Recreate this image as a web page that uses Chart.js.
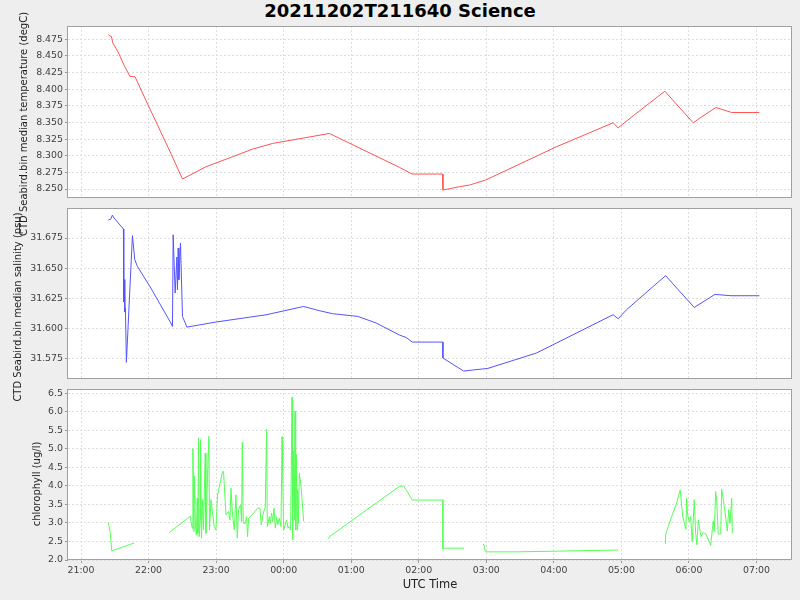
<!DOCTYPE html>
<html>
<head>
<meta charset="utf-8">
<script src="https://cdn.jsdelivr.net/npm/chart.js@4.4.0/dist/chart.umd.min.js"></script>
<style>
  html, body { margin: 0; padding: 0; background: #eeeeee; }
  body { width: 800px; height: 600px; position: relative; overflow: hidden; font-family: "DejaVu Sans", sans-serif; }
  canvas { position: absolute; left: 0; }
  .title { position: absolute; left: 0; top: 0; width: 800px; height: 24px; line-height: 24px; text-align: center; font: bold 18px "DejaVu Sans"; color: #000; }
  .ylab { position: absolute; white-space: nowrap; font: 10px "DejaVu Sans"; color: #222; transform: translate(-50%, -50%) rotate(-90deg); line-height: 12px; }
</style>
</head>
<body>
<div class="title">20211202T211640 Science</div>
<canvas id="c1" width="800" height="188" style="top:18px"></canvas>
<canvas id="c2" width="800" height="187" style="top:200px"></canvas>
<canvas id="c3" width="800" height="219" style="top:381px"></canvas>
<div class="ylab" style="left:24px; top:124px">CTD Seabird.bin median temperature (degC)</div>
<div class="ylab" style="left:18px; top:307px">CTD Seabird.bin median salinity (psu)</div>
<div class="ylab" style="left:37px; top:484px">chlorophyll (ug/l)</div>
<script>
// ---------- DATA ----------
const xTickHours = [21, 22, 23, 24, 25, 26, 27, 28, 29, 30, 31];

const tempTimes = ["21:24:17","21:25:32","21:26:57","21:28:12","21:32:55","21:38:15","21:43:19","21:48:02","21:57:33","22:19:48","22:30:07","22:50:56","23:14:36","23:32:24","23:50:11","00:02:06","00:40:37","01:42:54","01:54:11","02:21:25","02:21:26","02:36:17","02:45:10","02:59:24","04:02:18","04:52:40","04:57:08","05:10:26","05:38:36","06:03:48","06:11:17","06:24:00","06:38:00","07:02:32"];
const tempValues = [8.4825,8.480,8.4795,8.4695,8.456,8.436,8.4195,8.4185,8.3835,8.3035,8.265,8.2835,8.2985,8.310,8.3185,8.322,8.3335,8.2825,8.2725,8.2725,8.2485,8.2535,8.256,8.2635,8.3135,8.3495,8.342,8.360,8.397,8.3495,8.3585,8.3725,8.365,8.365];

const salTimes = ["21:24:17","21:26:25","21:27:51","21:29:21","21:37:38","21:37:59","21:38:31","21:38:53","21:39:25","21:40:18","21:45:38","21:47:46","21:50:05","22:02:00","22:19:48","22:21:13","22:21:50","22:23:37","22:25:08","22:25:40","22:26:17","22:26:55","22:28:20","22:30:07","22:34:02","22:59:50","23:44:18","00:17:46","00:31:43","00:43:34","01:05:48","01:22:10","01:42:54","01:48:52","01:54:11","02:21:25","02:21:26","02:39:50","03:01:26","03:44:30","04:02:18","04:52:40","04:57:08","05:04:35","05:28:14","05:39:16","06:04:43","06:23:07","06:37:22","07:02:32"];
const salValues = [31.690,31.6907,31.694,31.6916,31.6825,31.622,31.6405,31.6137,31.617,31.572,31.677,31.657,31.6515,31.6336,31.6046,31.6017,31.6777,31.6294,31.6593,31.6322,31.6667,31.6405,31.6709,31.6101,31.6012,31.6054,31.6114,31.6183,31.6148,31.6123,31.6101,31.6046,31.5946,31.5926,31.5888,31.5888,31.5756,31.5648,31.5670,31.5797,31.5880,31.6115,31.6081,31.6156,31.6349,31.6438,31.6175,31.6283,31.6272,31.6272];

// null values mark gaps in the chlorophyll record
const chlTimes = ["21:24:17","21:25:48","21:27:19","21:29:21","21:39:46","21:47:09","21:55:00",
"22:18:17","22:36:58","22:38:45","22:39:22","22:40:16","22:40:47","22:41:41","22:42:34","22:43:11","22:43:49","22:44:21","22:44:58","22:45:52","22:46:08","22:47:01","22:47:55","22:48:48","22:50:19","22:50:56","22:52:22","22:53:36","22:54:08","22:55:23","22:58:19","22:59:50","23:01:15","23:05:42","23:06:35","23:08:44","23:11:02","23:12:17","23:13:10","23:14:36","23:16:07","23:17:37","23:18:47","23:19:56","23:21:43","23:22:37","23:23:14","23:24:07","23:25:54","23:27:03","23:27:56","23:28:50","23:31:51","23:36:50","23:38:58","23:40:08","23:41:55","23:43:41","23:44:51","23:45:28","23:47:15","23:48:08","23:49:17","23:50:11","23:51:26","23:52:35","23:53:44","23:54:38","23:56:08","23:57:39","23:58:33","23:59:05","23:59:58","00:01:13","00:02:38","00:03:53","00:05:02","00:06:11","00:07:26","00:07:58","00:08:36","00:09:29","00:10:06","00:10:38","00:11:16","00:11:53","00:12:25","00:13:03","00:13:56","00:15:27","00:17:46","00:25:00",
"00:40:00","00:40:37","01:42:54","01:46:27","01:49:24","01:54:11","02:21:25","02:21:26","02:22:02","02:40:06","02:50:00",
"02:57:00","02:57:54","02:59:08","03:26:43","04:05:13","04:57:08","05:20:00",
"05:38:54","05:39:16","05:41:36","05:44:36","05:49:04","05:52:16","05:54:24","05:57:20","05:57:56","05:58:49","06:00:17","06:01:31","06:02:56","06:04:43","06:05:58","06:07:07","06:08:17","06:10:41","06:12:44","06:15:06","06:18:40","06:19:18","06:21:37","06:22:31","06:23:46","06:24:40","06:26:05","06:28:13","06:29:06","06:32:02","06:34:05","06:35:20","06:36:29","06:38:00","06:38:32"];
const chlValues = [3.01,2.77,2.24,2.27,2.38,2.46,null,
2.74,3.18,2.86,5.01,2.77,4.26,2.90,2.68,3.67,2.72,5.30,2.63,3.08,5.25,2.59,3.63,2.81,4.89,2.72,4.26,5.34,2.81,3.63,2.90,2.81,3.76,4.39,4.39,3.22,3.31,3.08,3.94,3.22,2.81,3.76,2.59,3.36,3.49,3.04,5.18,2.99,2.99,3.17,2.63,3.13,3.22,3.40,3.40,2.95,3.27,3.43,5.54,2.90,3.17,2.99,3.27,3.04,3.40,2.86,3.17,2.95,3.13,2.90,5.33,4.44,2.81,2.95,3.08,2.86,2.90,2.81,6.40,2.54,4.94,3.08,6.02,2.81,4.85,2.81,3.90,2.99,4.35,3.99,3.04,null,
2.57,2.63,3.99,4.00,3.87,3.62,3.62,2.30,2.32,2.32,null,
2.43,2.41,2.22,2.22,2.24,2.27,null,
2.44,2.68,2.90,3.17,3.54,3.89,3.19,2.83,3.67,3.22,3.04,3.17,2.49,3.63,2.72,2.41,3.08,2.63,2.74,2.70,2.45,2.39,3.06,2.77,3.85,3.58,2.70,2.70,3.92,3.31,2.78,3.36,2.99,3.67,2.72];

// ---------- HELPERS ----------
function toHours(t) {
  const p = t.split(":").map(Number);
  let h = p[0] + p[1] / 60 + (p[2] || 0) / 3600;
  if (p[0] < 12) h += 24; // after midnight
  return h;
}
function pts(times, vals) { return times.map((t, i) => ({ x: toHours(t), y: vals[i] })); }

const X_MIN = 20.807, X_MAX = 31.526;
const TICK_FONT = { family: "DejaVu Sans", size: 9.4 };
const GRID = { color: "#dedede", lineWidth: 1, tickColor: "#999", tickBorderDash: [], tickLength: 3 };
const BORDER = { display: false, dash: [2, 2] };

const panelPlugin = {
  id: "panel",
  beforeDraw(chart) {
    const a = chart.chartArea, ctx = chart.ctx;
    ctx.save(); ctx.fillStyle = "#ffffff"; ctx.fillRect(a.left, a.top, a.right - a.left, a.bottom - a.top); ctx.restore();
  },
  afterDraw(chart) {
    const a = chart.chartArea, ctx = chart.ctx;
    ctx.save(); ctx.strokeStyle = "#a0a0a0"; ctx.lineWidth = 1;
    ctx.strokeRect(Math.round(a.left) - 0.5, Math.round(a.top) + 0.5, Math.round(a.right - a.left), Math.round(a.bottom - a.top) - 1);
    ctx.restore();
  }
};

function makeChart(id, data, color, yMin, yMax, step, digits, bottom) {
  const xScale = {
    type: "linear", min: X_MIN, max: X_MAX,
    border: BORDER,
    grid: Object.assign({}, GRID, { drawTicks: bottom }),
    ticks: {
      display: bottom, stepSize: 1, includeBounds: false, autoSkip: false, maxRotation: 0,
      padding: 2, color: "#404040", font: TICK_FONT,
      callback: v => { const h = ((Math.round(v) % 24) + 24) % 24; return (h < 10 ? "0" : "") + h + ":00"; }
    },
    afterBuildTicks: s => { s.ticks = xTickHours.map(v => ({ value: v })); },
    title: { display: bottom, text: "UTC Time", color: "#222", font: { family: "DejaVu Sans", size: 11.5 }, padding: { top: 0, bottom: 8 } }
  };
  if (bottom) xScale.afterFit = s => { s.height = 40; };
  return new Chart(document.getElementById(id), {
    type: "line",
    data: { datasets: [{ data: data, borderColor: color, borderWidth: 1, pointRadius: 0, fill: false, spanGaps: false, tension: 0 }] },
    options: {
      responsive: false, animation: false, devicePixelRatio: 1, parsing: false,
      layout: { padding: { left: 0, right: 8, top: 8, bottom: bottom ? 0 : 8 } },
      plugins: { legend: { display: false }, tooltip: { enabled: false }, title: { display: false } },
      scales: {
        x: xScale,
        y: {
          min: yMin, max: yMax,
          border: BORDER,
          grid: GRID,
          ticks: { stepSize: step, includeBounds: false, padding: 2, color: "#404040", font: TICK_FONT, callback: v => Number(v).toFixed(digits) },
          afterFit: s => { s.width = 68; }
        }
      }
    },
    plugins: [panelPlugin]
  });
}

makeChart("c1", pts(tempTimes, tempValues), "#ff5555", 8.2365, 8.495, 0.025, 3, false);
makeChart("c2", pts(salTimes, salValues), "#5555ff", 31.5582, 31.6999, 0.025, 3, false);
makeChart("c3", pts(chlTimes, chlValues), "#55ff55", 2.0, 6.62, 0.5, 1, true);
</script>
</body>
</html>
